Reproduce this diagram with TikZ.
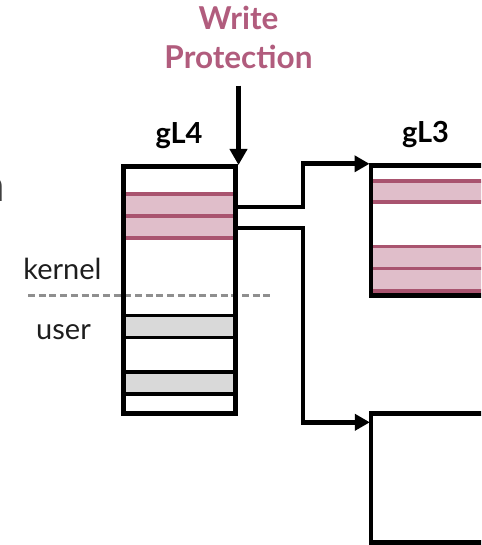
\documentclass[tikz,border=0pt]{standalone}
\usepackage{fontspec}
\setmainfont{Lato}
\usetikzlibrary{arrows.meta,calc}

\definecolor{wpink}{HTML}{B15C7D}
\definecolor{bandfill}{HTML}{E0BECA}
\definecolor{bandline}{HTML}{A9546F}
\definecolor{userfill}{HTML}{D9D9D9}
\definecolor{splitgray}{HTML}{8F8F8F}
\definecolor{inktext}{HTML}{1E1E1E}

\begin{document}
\begin{tikzpicture}[x=1pt,y=-1pt,
  tablebox/.style={draw=black, line width=5pt, inner sep=0pt, outer sep=0pt},
  ptr/.style={line width=4.6pt, -{Triangle[length=15pt,width=16pt]}},
  pinkband/.style={fill=bandfill},
  pinkrule/.style={draw=bandline, line width=3.4pt},
  grayrule/.style={draw=black, line width=3.6pt},
  tablabel/.style={font=\bfseries\fontsize{29}{32}\selectfont, anchor=base, inner sep=0pt},
  wplabel/.style={font=\bfseries\fontsize{31.5}{34}\selectfont, text=wpink, anchor=base, inner sep=0pt},
  sidelabel/.style={font=\fontsize{29}{32}\selectfont, text=inktext, anchor=base, inner sep=0pt}]

\useasboundingbox (0,0) rectangle (481,545);
\clip (0,0) rectangle (481,545);

% ---- gL4 table: kernel half with two protected entries, user half ----
\fill[pinkband] (123.5,194) rectangle (235,238);
\foreach \y in {194,216,238} \draw[pinkrule] (123.5,\y) -- (235,\y);
\fill[userfill] (123.5,315.5) rectangle (235,337.5);
\fill[userfill] (123.5,372) rectangle (235,394);
\foreach \y in {315.5,337.5,372,394} \draw[grayrule] (123.5,\y) -- (235,\y);

% kernel / user split
\draw[splitgray, line width=2.6pt, dash pattern=on 7pt off 3.7pt] (28,295.7) -- (272,295.7);

\node[tablebox, minimum width=111.5pt, minimum height=246.5pt] (gl4) at (179.25,289.75) {};

% ---- gL3 table ----
\fill[pinkband] (371,181) rectangle (600,202);
\fill[pinkband] (371,246.7) rectangle (600,291);
\foreach \y in {181,202,246.7,268.7,291} \draw[pinkrule] (371,\y) -- (600,\y);
\node[tablebox, line width=4.6pt, minimum width=229pt, minimum height=130pt] (gl3) at (485.5,230.6) {};

% ---- lower table ----
\node[tablebox, line width=4.6pt, minimum width=229pt, minimum height=129pt] (lower) at (485.35,477.8) {};

% ---- labels ----
\node[tablabel] (gl4lab) at (179,144) {gL4};
\node[tablabel] (gl3lab) at (425.5,143) {gL3};
\node[wplabel] (wp1) at (238.5,30) {Write};
\node[wplabel] (wp2) at (238.5,69) {Protection};
\node[sidelabel] (kern) at (62.5,279) {kernel};
\node[sidelabel] (usr) at (63.5,339) {user};
\node[font=\fontsize{46}{50}\selectfont, text=inktext!85, anchor=base east, inner sep=0pt] (cut) at (5.6,201.5) {n};

% ---- connectors ----
\coordinate (wpstart) at (238.5,85.7);
\coordinate (wpend) at (238.5,165);
\draw[line width=4.8pt, -{Triangle[length=16pt,width=17pt]}] (wpstart) -- (wpend);

\coordinate (out1) at ($(gl4.north east)+(0,40.5)$);
\coordinate (out2) at ($(gl4.north east)+(0,61.5)$);
\coordinate (in1) at ($(gl3.north west)+(-1.5,-1.8)$);
\coordinate (in2) at ($(lower.north west)+(-1,9)$);
\draw[ptr] (out1) -- ++(68,0) |- (in1);
\draw[ptr] (out2) -- ++(68,0) |- (in2);
\end{tikzpicture}
\end{document}
